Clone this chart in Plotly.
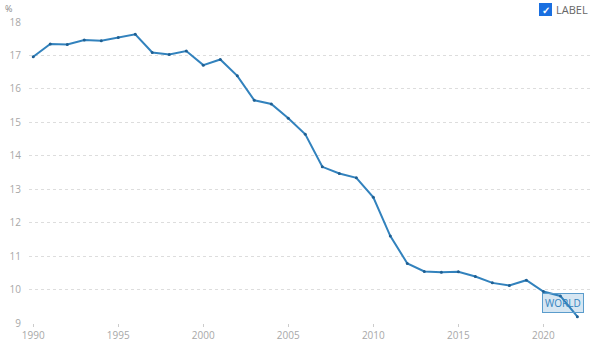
import plotly.graph_objects as go

years = list(range(1990, 2023))
values = [16.96, 17.34, 17.33, 17.46, 17.44, 17.54, 17.63, 17.09, 17.03, 17.13,
          16.71, 16.88, 16.39, 15.66, 15.55, 15.12, 14.64, 13.67, 13.47, 13.34,
          12.76, 11.60, 10.78, 10.54, 10.52, 10.53, 10.39, 10.20, 10.12, 10.28,
          9.94, 9.81, 9.19]
x_ticks = [1990, 1995, 2000, 2005, 2010, 2015, 2020]
y_ticks = [9, 10, 11, 12, 13, 14, 15, 16, 17, 18]
series_name = "WORLD"
legend_label = "LABEL"

line_color = "#3282bd"
grid_color = "#dddddd"
tick_color = "#a8a8a8"

fig = go.Figure()
fig.add_trace(go.Scatter(
    x=years, y=values, mode="lines+markers", name=series_name,
    line=dict(color=line_color, width=2),
    marker=dict(color="#1f5f92", size=3),
    showlegend=False,
))

fig.update_layout(
    width=600, height=351,
    margin=dict(l=29, r=8, t=22, b=28),
    paper_bgcolor="white", plot_bgcolor="white",
    font=dict(family="Open Sans", size=10, color=tick_color),
    xaxis=dict(range=[1989.75, 2022.86], tickvals=x_ticks, showgrid=False,
               zeroline=False, showline=False, ticks="outside", ticklen=3,
               tickcolor="#cccccc", tickfont=dict(size=10, color=tick_color)),
    yaxis=dict(range=[9, 18], tickvals=y_ticks, showgrid=True, gridcolor=grid_color,
               griddash="dot", gridwidth=1, zeroline=False, showline=False,
               ticks="", ticklabelstandoff=7, tickfont=dict(size=10, color=tick_color)),
)

fig.add_annotation(text="%", xref="paper", yref="paper", x=-0.046, y=1.0,
                   xanchor="left", yanchor="bottom", yshift=5, showarrow=False,
                   font=dict(size=9, color="#888888"))

# checkbox legend
fig.add_annotation(text="<b>✓</b>", xref="paper", yref="paper", x=0.918, y=1.04,
                   xanchor="center", yanchor="middle", showarrow=False,
                   bgcolor="#1a6fe0", bordercolor="#1a6fe0", borderpad=0,
                   font=dict(size=10, color="white"), width=11, height=11)
fig.add_annotation(text=legend_label, xref="paper", yref="paper", x=0.933, y=1.04,
                   xanchor="left", yanchor="middle", showarrow=False,
                   font=dict(size=11, color="#666666"))

# end label
fig.add_annotation(text=series_name, x=years[-1], y=values[-1], xref="x", yref="y",
                   xshift=-14, yshift=14, showarrow=False, xanchor="center",
                   bgcolor="rgba(50,130,189,0.2)", bordercolor="#5a9ccc",
                   borderwidth=1, borderpad=2,
                   font=dict(size=10, color=line_color))

fig.write_html("out.html")
